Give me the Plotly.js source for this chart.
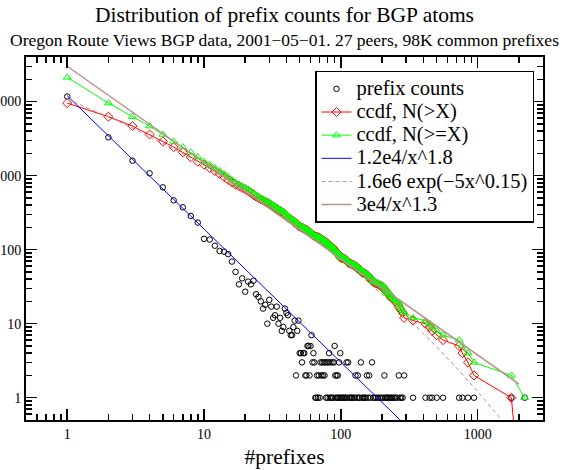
<!DOCTYPE html>
<html>
<head>
<meta charset="utf-8">
<script src="https://cdn.plot.ly/plotly-3.0.1.min.js"></script>
<style>html,body{margin:0;padding:0;background:#fff;}#chart{width:562px;height:470px;}</style>
</head>
<body>
<div id="chart"></div>
<script>
// ---- data ----
// number of prefixes in an atom (x) and number of atoms with that many prefixes (y)
const countX = [1,2,3,4,5,6,7,8,9,10,11,12,13,14,15,16,17,18,19,20,21,22,23,24,25,26,27,28,29,30,
  31,32,33,34,35,36,37,38,39,40,41,42,43,44,45,46,47,48,49,50,51,52,53,54,55,56,57,58,59,60,
  61,62,63,64,65,66,67,68,69,70,71,72,73,74,75,76,77,78,79,80,81,82,83,84,85,86,87,88,89,90,
  91,92,93,94,95,96,97,98,99,
  100,102,104,106,108,110,111,113,115,117,119,121,124,126,128,131,133,135,137,140,
  143,146,149,152,155,158,161,164,169,172,176,181,187,193,199,204,208,211,215,219,
  223,228,233,238,244,250,257,265,270,276,283,290,337,415,446,464,502,558,731,773,
  849,940,1762,2205];
const countY = [11700,3290,1590,1075,695,464,373,285,232,140,137,113,96,94,87,69,50,34,41,27,
  37,34,38,25,23,20,16,18,10,21,17,12,13,17,10,12,8,9,16,14,13,8,7,7,9,11,2,8,11,
  4,4,3,4,4,2,2,5,5,2,5,7,3,4,3,
  1,1,2,1,2,1,3,2,3,2,3,2,3,1,3,1,3,4,1,3,1,1,3,1,3,5,2,1,2,1,2,1,3,1,4,
  1,1,1,1,1,3,1,3,1,1, 1,1,1,1,2,1,2,1,1,3, 1,1,1,1,2,1,2,1,3,1,
  1,1,1,1,1,1,2,1,1,1, 1,1,1,1,1,1,1,2,1,1, 1,2,1,1,1,1,1,1,1,1, 1,1,1,1];
// ccdf N(>=X), read at the same X values
const ccdfGE = [21247,9547,6257,4667,3592,2897,2433,2060,1775,1543,
  1403,1266,1153,1057,963,876,807,757,723,682,
  655,618,584,546,521,498,478,462,444,434,
  413,396,384,371,354,344,332,324,315,299,
  285,272,264,257,250,241,230,228,220,209,
  205,201,198,194,190,188,186,181,176,174,
  169,162,159,155,152,151,150,148,147,145,
  144,141,139,136,134,131,129,126,125,122,
  121,118,114,113,110,109,108,105,104,101,
  96,94,93,91,90,88,87,84,83,
  79,78,77,76,75,74,71,70,67,66, 65,64,63,62,61,59,58,56,55,54,
  51,50,49,48,47,45,44,42,41,38, 37,36,35,34,33,32,31,29,28,27,
  26,25,24,23,22,21,20,19,17,16, 15,14,12,11,10,9,8,7,6,5, 4,3,2,1];
// ccdf N(>X), read at the same X values
const ccdfGT = [9547,6257,4667,3592,2897,2433,2060,1775,1543,1403,
  1266,1153,1057,963,876,807,757,723,682,655,
  618,584,546,521,498,478,462,444,434,413,
  396,384,371,354,344,332,324,315,299,285,
  272,264,257,250,241,230,228,220,209,205,
  201,198,194,190,188,186,181,176,174,169,
  162,159,155,152,151,150,148,147,145,144,
  141,139,136,134,131,129,126,125,122,121,
  118,114,113,110,109,108,105,104,101,96,
  94,93,91,90,88,87,84,83,79,
  78,77,76,75,74,71,70,67,66,65, 64,63,62,61,59,58,56,55,54,51,
  50,49,48,47,45,44,42,41,38,37, 36,35,34,33,32,31,29,28,27,26,
  25,24,23,22,21,20,19,17,16,15, 14,12,11,10,9,8,7,6,5,4, 3,2,1,0];
// fitted curves as drawn
const fitPowA_X = [1, 300];
const fitPowA_Y = [12000, 0.417];
const fitExp_X = [1,2,3,5,7,10,14,20,30,50,70,100,150,200,300,500,700,1000,1500,2000];
const fitExp_Y = [10780,6234,4405,2752,1979,1370,950,632,387,199,125,74.4,39.8,24.9,12.4,4.88,2.53,1.21,0.50,0.26];
const fitPowB_X = [1, 2000];
const fitPowB_Y = [30000, 1.53];
const seriesNames = ['prefix counts','ccdf, N(&gt;X)','ccdf, N(&gt;=X)','1.2e4/x^1.8','1.6e6 exp(\u22125x^0.15)','3e4/x^1.3'];

// a zero cannot be shown on a log axis; draw it just below the visible range
const LOG_FLOOR = 0.01;
const gtShown = ccdfGT.map(v => v > 0 ? v : LOG_FLOOR);

const FONT = 'Liberation Serif';
const brown = '#bc8f8f';
// legend rows are spaced by a smaller base size, the text itself is drawn larger
const legName = s => '<span style="font-size:20.5px">' + s + '</span>';

const traces = [
  {x: countX, y: countY, name: legName(seriesNames[0]), type: 'scatter', mode: 'markers',
   marker: {symbol: 'circle-open', size: 5.5, color: 'black', line: {width: 1, color: 'black'}}},
  {x: countX, y: gtShown, name: legName(seriesNames[1]), type: 'scatter', mode: 'lines+markers',
   line: {color: '#ff0000', width: 1},
   marker: {symbol: 'diamond-open', size: 7, color: '#ff0000', line: {width: 1, color: '#ff0000'}}},
  {x: countX, y: ccdfGE, name: legName(seriesNames[2]), type: 'scatter', mode: 'lines+markers',
   line: {color: '#00ff00', width: 1},
   marker: {symbol: 'triangle-up-open', size: 7, color: '#00ff00', line: {width: 1, color: '#00ff00'}}},
  {x: fitPowA_X, y: fitPowA_Y, name: legName(seriesNames[3]), type: 'scatter', mode: 'lines',
   line: {color: '#0000ff', width: 1}},
  {x: fitExp_X, y: fitExp_Y, name: legName(seriesNames[4]), type: 'scatter', mode: 'lines',
   line: {color: brown, width: 1, dash: '4px,3px'}},
  {x: fitPowB_X, y: fitPowB_Y, name: legName(seriesNames[5]), type: 'scatter', mode: 'lines',
   line: {color: brown, width: 1.5}}
];

const axisCommon = {
  type: 'log', tickmode: 'linear', tick0: 0, dtick: 1, exponentformat: 'none',
  ticks: 'inside', ticklen: 11, tickwidth: 1.5, tickcolor: 'black',
  showline: true, linewidth: 2, linecolor: 'black', mirror: 'ticks',
  showgrid: false, zeroline: false,
  minor: {ticks: 'inside', ticklen: 6, tickwidth: 1.5, tickcolor: 'black', showgrid: false},
  tickfont: {family: FONT, size: 14, color: 'black'}
};

const layout = {
  width: 562, height: 470,
  margin: {l: 26, r: 19, t: 57, b: 50},
  paper_bgcolor: 'white', plot_bgcolor: 'white',
  separators: '.',
  font: {family: FONT, color: 'black'},
  showlegend: true,
  title: {text: 'Distribution of prefix counts for BGP atoms',
    font: {family: FONT, size: 21.5, color: 'black'},
    x: 0.5, xref: 'paper', xanchor: 'center', y: 0.970, yref: 'container', yanchor: 'middle'},
  annotations: [{
    text: 'Oregon Route Views BGP data, 2001\u221205\u221201. 27 peers, 98K common prefixes',
    xref: 'paper', yref: 'paper', x: 0.5, y: 1.047, xanchor: 'center', yanchor: 'middle',
    showarrow: false, font: {family: FONT, size: 17.5, color: 'black'}
  }],
  xaxis: Object.assign({}, axisCommon, {
    range: [Math.log10(0.5), Math.log10(3000)],
    title: {text: '#prefixes', font: {family: FONT, size: 21.5, color: 'black'}, standoff: 8}
  }),
  yaxis: Object.assign({}, axisCommon, {
    range: [Math.log10(0.5), Math.log10(40000)]
  }),
  legend: {
    x: 0.559, y: 0.962, xanchor: 'left', yanchor: 'top',
    bgcolor: 'white', bordercolor: 'black', borderwidth: 1.5,
    font: {family: FONT, size: 15.5, color: 'black'},
    itemwidth: 30, tracegroupgap: 0
  }
};

Plotly.newPlot('chart', traces, layout, {displayModeBar: false, staticPlot: true});
</script>
</body>
</html>
